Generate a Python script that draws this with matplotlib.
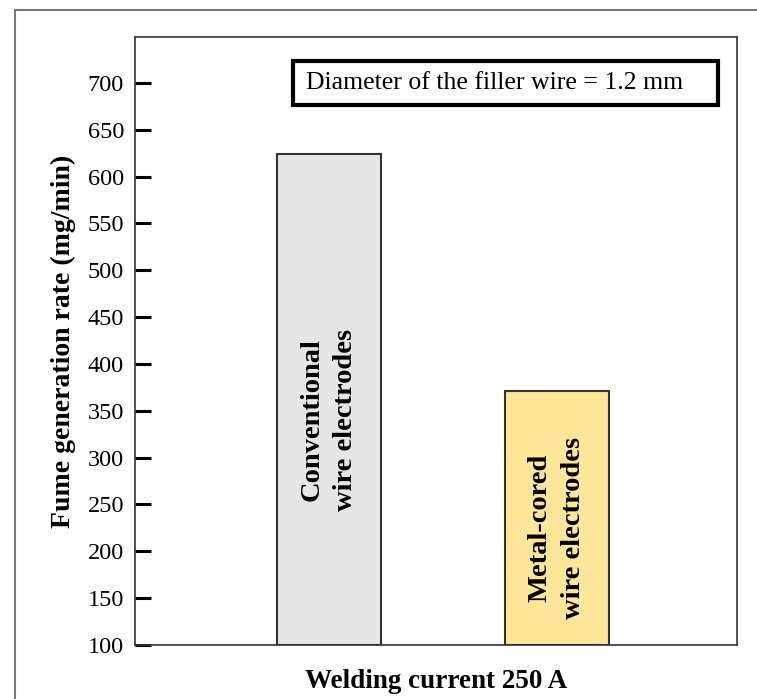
import matplotlib.pyplot as plt
from matplotlib.patches import Rectangle

# ---- Data ----
categories = ["Conventional\nwire electrodes", "Metal-cored\nwire electrodes"]
fume_rate = [624, 371]  # mg/min
bar_colors = ["#e6e6e6", "#ffe699"]
y_ticks = [100, 150, 200, 250, 300, 350, 400, 450, 500, 550, 600, 650, 700]
note = "Diameter of the filler wire = 1.2 mm"

plt.rcParams['font.family'] = ['Liberation Serif', 'DejaVu Serif']

fig = plt.figure(figsize=(7.57, 6.99), dpi=100)
ax = fig.add_axes([135 / 757, 1 - 645 / 699, 602 / 757, 608 / 699])

# outer frame of the figure
fig.patches.append(Rectangle((15 / 757, -0.1), 1.2, 1 - 10 / 699 + 0.1,
                             transform=fig.transFigure, fill=False,
                             edgecolor="#777777", linewidth=1.5))

positions = [1, 2]
ax.bar(positions, [v - 100 for v in fume_rate], bottom=100, width=0.455,
       color=bar_colors, edgecolor="#333333", linewidth=1.5)

# labels inside the bars
label_y = [420, 528]
for x, lab, ly in zip(positions, categories, label_y):
    ax.text(x, 100 + (645 - ly) / 0.937, lab, rotation=90, ha="center", va="center",
            fontsize=20.5, fontweight="bold", linespacing=1.45)

ax.set_xlim(0.15, 2.79)
ax.set_ylim(100, 749)
ax.set_yticks(y_ticks)
ax.set_xticks([])
ax.tick_params(axis="y", direction="in", length=11.5, width=2.2, labelsize=17.5, pad=8)
for s in ax.spines.values():
    s.set_linewidth(1.2)
    s.set_color("#333333")

ax.set_ylabel("Fume generation rate (mg/min)", fontsize=20, fontweight="bold", labelpad=8)
ax.set_xlabel("Welding current 250 A", fontsize=19.5, fontweight="bold", labelpad=17)

# note box
ax.add_patch(Rectangle(((293 - 135) / 602, 1 - (105 - 37) / 608), 425 / 602, 44 / 608,
                       transform=ax.transAxes, fill=False, edgecolor="black", linewidth=3))
ax.text((495 - 135) / 602, 1 - (83 - 37) / 608, note, transform=ax.transAxes,
        ha="center", va="center", fontsize=18.5)

fig.savefig("out.png", dpi=100)
